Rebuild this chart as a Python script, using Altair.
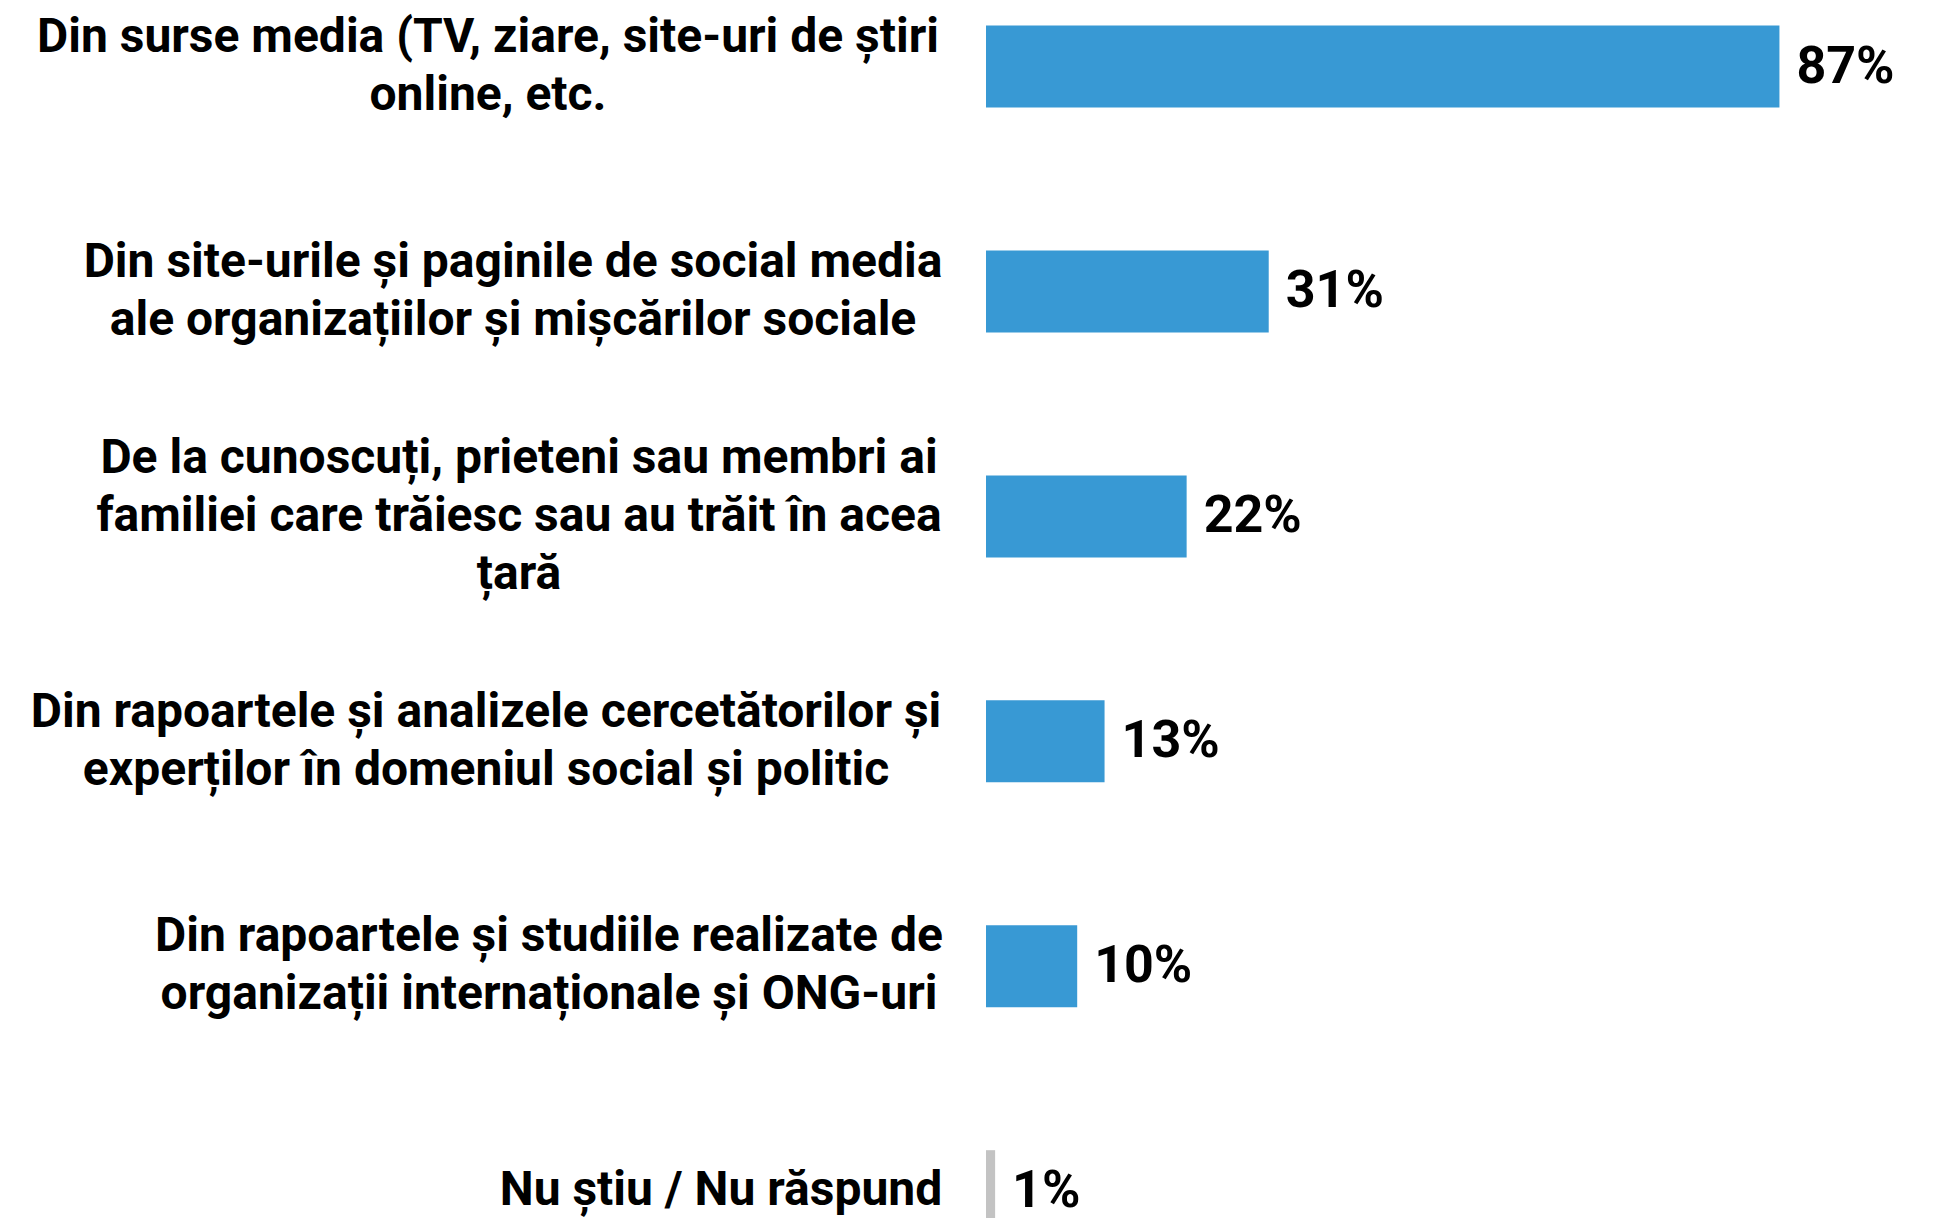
import altair as alt
import pandas as pd

categories = [
    "Din surse media (TV, ziare, site-uri de știri\nonline, etc.",
    "Din site-urile și paginile de social media\nale organizațiilor și mișcărilor sociale",
    "De la cunoscuți, prieteni sau membri ai\nfamiliei care trăiesc sau au trăit în acea\nțară",
    "Din rapoartele și analizele cercetătorilor și\nexperților în domeniul social și politic",
    "Din rapoartele și studiile realizate de\norganizații internaționale și ONG-uri",
    "Nu știu / Nu răspund",
]
values = [87, 31, 22, 13, 10, 1]
value_labels = ["87%", "31%", "22%", "13%", "10%", "1%"]

# layout: horizontal centre of each (centred) label block, px left of the axis
label_block_center = [-498, -473, -467, -500, -437, -265]

df = pd.DataFrame({
    "idx": list(range(len(categories))),
    "cat": categories,
    "val": values,
    "lab": value_labels,
    "dk": [c.startswith("Nu știu") for c in categories],
    "lx": label_block_center,
})

FONT = "Roboto"
LINE_H = 58
step_px = 226.8
first_center = 54.0
H = 1210
W = 912

yscale = alt.Scale(domain=[-first_center / step_px, (H - first_center) / step_px],
                   reverse=True, zero=False, nice=False)
y = alt.Y("idx:Q", scale=yscale,
          axis=alt.Axis(labels=False, ticks=False, grid=False, title=None,
                        domainColor="#d9d9d9", domainWidth=2))

base = alt.Chart(df)

bars = base.mark_bar(orient="horizontal", size=82, clip=True).encode(
    x=alt.X("val:Q", scale=alt.Scale(domain=[0, 100], nice=False), axis=None),
    y=y,
    color=alt.condition("datum.dk", alt.value("#c3c3c3"), alt.value("#3899d4")),
)

pct = base.mark_text(align="left", baseline="middle", dx=17, font=FONT,
                     fontWeight="bold", fontSize=52, color="#000000").encode(
    x=alt.X("val:Q"),
    y=y,
    text="lab:N",
)

cats = base.transform_calculate(
    ly=f"datum.idx - (length(split(datum.cat, '\\n')) - 1) * {LINE_H} / 2 / {step_px}"
).mark_text(align="center", baseline="middle", font=FONT,
            fontWeight="bold", fontSize=48, lineHeight=LINE_H,
            lineBreak="\n", color="#000000").encode(
    x=alt.X("lx:Q", scale=None),
    y=alt.Y("ly:Q", scale=yscale, axis=None),
    text="cat:N",
)

chart = alt.layer(bars, pct, cats).properties(
    width=W, height=H,
    autosize=alt.AutoSizeParams(type="none"),
    padding={"left": 978, "top": 0, "right": 30, "bottom": 4},
).configure_view(stroke=None)

chart.save("out.html", embed_options={"renderer": "svg", "actions": False})
